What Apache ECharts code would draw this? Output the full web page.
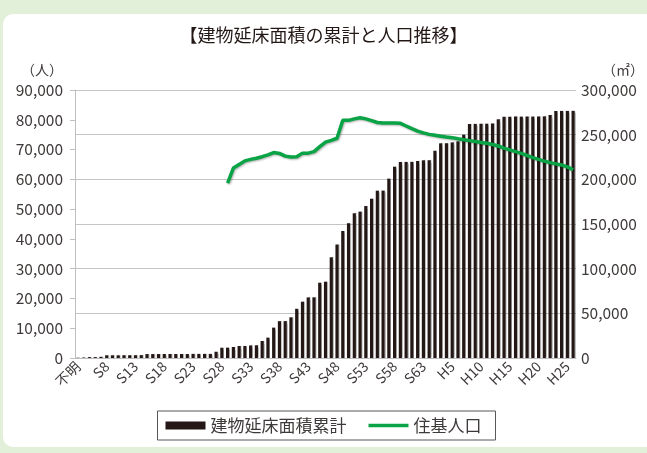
<!DOCTYPE html>
<html>
<head>
<meta charset="utf-8">
<script src="https://cdn.jsdelivr.net/npm/echarts@6/dist/echarts.min.js"></script>
<style>
html,body{margin:0;padding:0;background:#e2efd9;}
#panel{position:absolute;left:3px;top:14px;width:644px;height:433px;background:#fff;border-radius:10px 0 0 10px;}
#chart{position:absolute;left:0;top:0;width:647px;height:453px;}
</style>
</head>
<body>
<div id="panel"></div>
<div id="chart"></div>
<script>
var categories = ['不明',
 'S4','S5','S6','S7','S8','S9','S10','S11','S12','S13','S14','S15','S16','S17','S18','S19','S20',
 'S21','S22','S23','S24','S25','S26','S27','S28','S29','S30','S31','S32','S33','S34','S35','S36',
 'S37','S38','S39','S40','S41','S42','S43','S44','S45','S46','S47','S48','S49','S50','S51','S52',
 'S53','S54','S55','S56','S57','S58','S59','S60','S61','S62','S63',
 'H1','H2','H3','H4','H5','H6','H7','H8','H9','H10','H11','H12','H13','H14','H15','H16','H17',
 'H18','H19','H20','H21','H22','H23','H24','H25','H26'];

// 建物延床面積累計 (㎡) – right axis
var floorArea = [300,
 500,1000,1000,1300,3000,3000,3000,3100,3100,3100,3200,4400,4400,4400,4500,4500,4500,
 4500,4500,4600,4600,4600,4600,7000,11500,11600,12300,13400,13500,14000,14200,19000,22800,
 34000,41200,41300,45500,55100,63000,67800,67900,84300,85400,112700,127000,142200,150700,162000,163800,
 170100,178400,187300,187400,200800,214200,219400,219500,219600,220500,221300,
 221400,232000,240300,240400,241300,242500,250000,262000,262100,262200,262300,262400,267200,270000,270100,270200,270200,
 270300,270300,270400,270500,272000,276500,276600,276600,276700];

// 住基人口 (人) – left axis
var population = [null,
 null,null,null,null,null,null,null,null,null,null,null,null,null,null,null,null,null,
 null,null,null,null,null,null,null,null,58700,63800,65000,66200,66700,67100,67600,68200,
 69000,68700,67800,67500,67600,68800,68800,69300,71000,72500,73100,73800,79800,79800,80300,80700,
 80300,79700,79100,78900,78900,78900,78800,77900,77000,76200,75600,
 75100,74800,74500,74200,74000,73600,73300,73000,72700,72400,72100,71700,71200,70500,69900,69300,68700,
 68000,67300,66700,66100,65600,65200,64800,64200,63200];

var chart = echarts.init(document.getElementById('chart'), null, {renderer:'canvas'});
var font = '"Noto Sans CJK JP", "Noto Sans", sans-serif';
var txt = '#3e3a39';
function fmt(v){return v.toLocaleString('en-US');}
chart.setOption({
  animation: false,
  backgroundColor: 'transparent',
  textStyle: {fontFamily: font},
  title: {
    text: '【建物延床面積の累計と人口推移】',
    left: 'center', top: 21,
    textStyle: {fontFamily: font, fontSize: 18, fontWeight: 'normal', color: '#231815'}
  },
  grid: {left: 75, right: 70, top: 90, bottom: 95},
  legend: {
    bottom: 13, left: 'center',
    data: [
      {name: '建物延床面積累計', icon: 'rect'},
      {name: '住基人口', icon: 'path://M0,0 M0,2.2 L40,2.2 L40,5.8 L0,5.8 Z M40,8'}
    ],
    itemWidth: 40, itemHeight: 8, itemGap: 22,
    borderColor: '#595757', borderWidth: 1, borderRadius: 0,
    padding: [6, 14, 6, 8],
    textStyle: {fontFamily: font, fontSize: 17, color: txt}
  },
  xAxis: {
    type: 'category', data: categories,
    axisLine: {lineStyle: {color: '#bfbfbf'}},
    axisTick: {show: false},
    axisLabel: {interval: 4, rotate: 45, fontSize: 14, color: txt, margin: 6, fontFamily: font}
  },
  yAxis: [
    {
      type: 'value', min: 0, max: 90000, interval: 10000,
      name: '（人）', nameLocation: 'end', nameGap: 13,
      nameTextStyle: {fontFamily: font, fontSize: 14, color: txt, align: 'right', padding: [0, 12, 0, 0]},
      axisLine: {show: true, lineStyle: {color: '#bfbfbf'}},
      axisTick: {show: true, length: 5, lineStyle: {color: '#bfbfbf'}},
      splitLine: {show: false},
      axisLabel: {fontSize: 15.5, color: txt, margin: 12, fontFamily: font, formatter: fmt}
    },
    {
      type: 'value', min: 0, max: 300000, interval: 50000,
      name: '（㎡）', nameLocation: 'end', nameGap: 13,
      nameTextStyle: {fontFamily: font, fontSize: 14, color: txt, align: 'left', padding: [0, 0, 0, 26]},
      axisLine: {show: false}, axisTick: {show: false},
      splitLine: {show: true, lineStyle: {color: '#c4c4c4', width: 1}},
      axisLabel: {fontSize: 15.5, color: txt, margin: 5, fontFamily: font, formatter: fmt}
    }
  ],
  series: [
    {
      name: '建物延床面積累計', type: 'bar', yAxisIndex: 1, data: floorArea,
      barWidth: '55%',
      itemStyle: {color: '#231815', shadowColor: 'rgba(0,0,0,0.25)', shadowBlur: 1, shadowOffsetX: 1}
    },
    {
      name: '住基人口', type: 'line', yAxisIndex: 0, data: population,
      symbol: 'none', showSymbol: false,
      lineStyle: {color: '#0aa345', width: 3.5, shadowColor: 'rgba(0,0,0,0.3)', shadowBlur: 2, shadowOffsetX: 1, shadowOffsetY: 1},
      itemStyle: {color: '#0aa345'},
      z: 5
    }
  ]
});
</script>
</body>
</html>
